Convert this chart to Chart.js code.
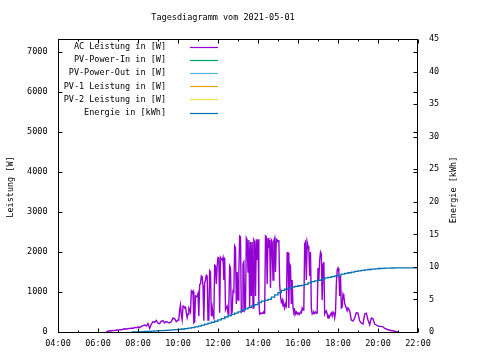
<!DOCTYPE html>
<html><head><meta charset="utf-8">
<script src="https://cdn.jsdelivr.net/npm/chart.js@4/dist/chart.umd.min.js"></script>
<style>html,body{margin:0;padding:0;background:#fff;}canvas{display:block;}</style>
</head><body>
<canvas id="c" width="480" height="360"></canvas>
<script>
const chartTitle = "Tagesdiagramm vom 2021-05-01";
const leftAxisTitle = "Leistung [W]";
const rightAxisTitle = "Energie [kWh]";
const xTickLabels = ["04:00","06:00","08:00","10:00","12:00","14:00","16:00","18:00","20:00","22:00"];
const leftTicks = [0,1000,2000,3000,4000,5000,6000,7000];
const rightTicks = [0,5,10,15,20,25,30,35,40,45];
const seriesNames = ["AC Leistung in [W]","PV-Power-In in [W]","PV-Power-Out in [W]","PV-1 Leistung in [W]","PV-2 Leistung in [W]","Energie in [kWh]"];
const seriesColors = ["#9400d3","#009e73","#56b4e9","#e69f00","#f0e442","#0072b2"];

// AC power: morning samples every 5 min from 06:25
const acEarlyStart = "06:25", acEarlyStep = 5;
const acEarlyW = [0,20,30,25,40,35,50,
  45,60,55,70,80,70,90,85,100,90,115,105,
  130,110,140,160,175,150,210,90,200,260,240,290,
  220,210,270,280,230,260,240,225,260,350,330,260];
// AC power: midday samples every 2.5 min from 10:00
const acMidStart = "10:00", acMidStep = 2.5;
const acMidW = [
  300,320,560,680,420,300, 650,640,600,620,480,360,
  450,600,560,500,1020,980, 1020,230,250,900,880,900,
  960,400,1190,1200,1400,1380, 1150,280,1230,1300,1420,1400,
  300,320,1530,1500,400,600, 400,350,1670,1650,1200,1650,
  1860,1850,480,1860,1820,1800, 1860,1300,1860,560,620,650,
  450,650,1650,1600,450,500, 1025,1000,2150,2100,700,1500,
  800,1500,2400,2380,500,520, 1700,1750,550,600,2350,2300,
  1500,2300,600,2250,900,2250, 600,2300,2250,900,2320,1800,
  2320,800,450,470,460,480, 470,500,480,2400,2380,1200,
  2350,2100,2300,1100,2300,2250, 1300,2280,2350,1500,2320,2300,
  2250,2300,1200,900,750,800, 650,700,600,700,650,1980,
  1980,600,1700,1650,700,1300, 600,500,550,450,500,450,
  480,450,450,500,480,600, 550,600,2200,2250,1300,2250,
  2150,2050,1400,2000,600,450, 470,500,460,500,480,470,
  1600,1300,1800,2000,1950,800, 1700,1750,450,500,530,450,
  350,400,380,450,480,400, 500,480,350,480,1190,1550,
  1600,1500,900,1400,600,620, 950,900,720,650,600,530,
  600];
// AC power: evening samples every 5 min from 18:35
const acLateStart = "18:35", acLateStep = 5;
const acLateW = [530,300,275,350,480,470,280,220,200,450,470,300,180,350,330,200,175,
  150,140,140,130,90,75,55,50,30,30,20,5,0];

const energyTimes = ["07:40","07:50","08:00","08:10","08:20","08:30","08:40","08:50","09:00","09:10","09:20","09:30","09:40","09:50",
  "10:00","10:10","10:20","10:30","10:40","10:50","11:00","11:10","11:20","11:30","11:40","11:50",
  "12:00","12:10","12:20","12:30","12:40","12:50","13:00","13:10","13:20","13:30","13:40","13:50",
  "14:00","14:10","14:20","14:30","14:40","14:50","15:00","15:10","15:20","15:30","15:40","15:50",
  "16:00","16:10","16:20","16:30","16:40","16:50","17:00","17:10","17:20","17:30","17:40","17:50",
  "18:00","18:10","18:20","18:30","18:40","18:50","19:00","19:10","19:20","19:30","19:40","19:50",
  "20:00","20:10","20:20","20:30","20:40","20:50","21:00","22:00"];
const energyKWh = [0,0.02,0.03,0.05,0.08,0.1,0.13,0.16,0.2,0.22,0.26,0.3,0.33,0.37,
  0.4,0.46,0.53,0.6,0.68,0.78,0.9,1.05,1.2,1.35,1.5,1.65,
  1.85,2.05,2.3,2.5,2.7,2.9,3.1,3.35,3.55,3.75,4.0,4.2,
  4.5,4.75,4.85,5.0,5.35,5.7,6.05,6.4,6.6,6.75,6.9,7.0,
  7.1,7.15,7.3,7.55,7.75,7.85,7.95,8.1,8.3,8.4,8.5,8.6,
  8.75,8.9,9.0,9.1,9.2,9.3,9.4,9.45,9.55,9.6,9.65,9.7,
  9.75,9.78,9.8,9.82,9.83,9.84,9.85,9.85];

function toHours(s){const p=s.split(":");return +p[0]+(+p[1])/60;}
function samples(start, stepMin, vals){const t0=toHours(start);return vals.map((v,i)=>({x:t0+i*stepMin/60,y:v}));}
const acPoints = [].concat(samples(acEarlyStart,acEarlyStep,acEarlyW), samples(acMidStart,acMidStep,acMidW), samples(acLateStart,acLateStep,acLateW));
const energyPoints = energyKWh.map((v,i)=>({x:toHours(energyTimes[i]),y:v}));
const xTickValues = xTickLabels.map(toHours);

const FONT = "8.5px 'DejaVu Sans Mono'";

const decor = {
  id:'decor',
  afterDraw(chart){
    const c = chart.ctx, a = chart.chartArea;
    const xs = chart.scales.x, ys = chart.scales.y, y2 = chart.scales.y2;
    const L = Math.round(a.left)+0.5, R = Math.round(a.right)-0.5, T = Math.round(a.top)+0.5, B = Math.round(a.bottom)+0.5;
    c.save();
    c.strokeStyle = '#000'; c.lineWidth = 1;
    c.strokeRect(L, T, R-L, B-T);
    c.beginPath();
    for(let h=4; h<=22; h++){
      const px = Math.round(xs.getPixelForValue(h))+0.5;
      const len = (h%2===0)?4:2;
      c.moveTo(px,B); c.lineTo(px,B-len);
      c.moveTo(px,T); c.lineTo(px,T+len);
    }
    leftTicks.forEach(v=>{
      const py = Math.round(ys.getPixelForValue(v))+0.5;
      c.moveTo(L,py); c.lineTo(L+4,py);
      c.moveTo(R,py); c.lineTo(R-4,py);
    });
    rightTicks.forEach(v=>{
      const py = Math.round(y2.getPixelForValue(v))+0.5;
      c.moveTo(R,py); c.lineTo(R-4,py);
    });
    c.stroke();
    c.fillStyle = '#000'; c.font = FONT; c.textBaseline = 'middle';
    c.textAlign = 'center';
    xTickLabels.forEach((t,i)=>{ c.fillText(t, xs.getPixelForValue(xTickValues[i]), 343.5); });
    c.textAlign = 'right';
    leftTicks.forEach(v=>{ c.fillText(String(v), 47.5, ys.getPixelForValue(v)); });
    c.textAlign = 'left';
    rightTicks.forEach(v=>{ c.fillText(String(v), 429, y2.getPixelForValue(v)); });
    c.textAlign = 'center';
    c.fillText(chartTitle, 223, 17.5);
    c.save(); c.translate(10.5, 187); c.rotate(-Math.PI/2); c.fillText(leftAxisTitle,0,0); c.restore();
    c.save(); c.translate(453.5, 190); c.rotate(-Math.PI/2); c.fillText(rightAxisTitle,0,0); c.restore();
    chart.data.datasets.forEach((ds,i)=>{
      const ry = 47 + i*13.1;
      c.textAlign = 'right'; c.fillStyle = '#000';
      c.fillText(ds.label, 166, ry);
      c.strokeStyle = ds.borderColor; c.lineWidth = 1.2;
      const ly = Math.round(ry)+0.5;
      c.beginPath(); c.moveTo(190, ly); c.lineTo(218, ly); c.stroke();
    });
    c.restore();
  }
};

const dsBase = {pointRadius:0, tension:0, fill:false};
new Chart(document.getElementById('c'), {
  type:'line',
  data:{datasets:[
    Object.assign({label:seriesNames[0], data:acPoints, borderColor:seriesColors[0], borderWidth:1.4, yAxisID:'y', order:2}, dsBase),
    Object.assign({label:seriesNames[1], data:[], borderColor:seriesColors[1], borderWidth:1, yAxisID:'y', order:3}, dsBase),
    Object.assign({label:seriesNames[2], data:[], borderColor:seriesColors[2], borderWidth:1, yAxisID:'y', order:4}, dsBase),
    Object.assign({label:seriesNames[3], data:[], borderColor:seriesColors[3], borderWidth:1, yAxisID:'y', order:5}, dsBase),
    Object.assign({label:seriesNames[4], data:[], borderColor:seriesColors[4], borderWidth:1, yAxisID:'y', order:6}, dsBase),
    Object.assign({label:seriesNames[5], data:energyPoints, borderColor:seriesColors[5], borderWidth:1.3, yAxisID:'y2', stepped:'before', order:1}, dsBase)
  ]},
  options:{
    responsive:false, animation:false, devicePixelRatio:1,
    layout:{padding:{top:39,left:0,right:0,bottom:0}},
    plugins:{legend:{display:false}, title:{display:false}, tooltip:{enabled:false}},
    scales:{
      x:{type:'linear', min:4, max:22, ticks:{display:false}, grid:{display:false}, border:{display:false}, afterFit(s){s.height=28;}},
      y:{type:'linear', position:'left', min:0, max:7325, ticks:{display:false}, grid:{display:false}, border:{display:false}, afterFit(s){s.width=58;}},
      y2:{type:'linear', position:'right', min:0, max:45, ticks:{display:false}, grid:{display:false}, border:{display:false}, afterFit(s){s.width=62;}}
    }
  },
  plugins:[decor]
});
</script>
</body></html>
